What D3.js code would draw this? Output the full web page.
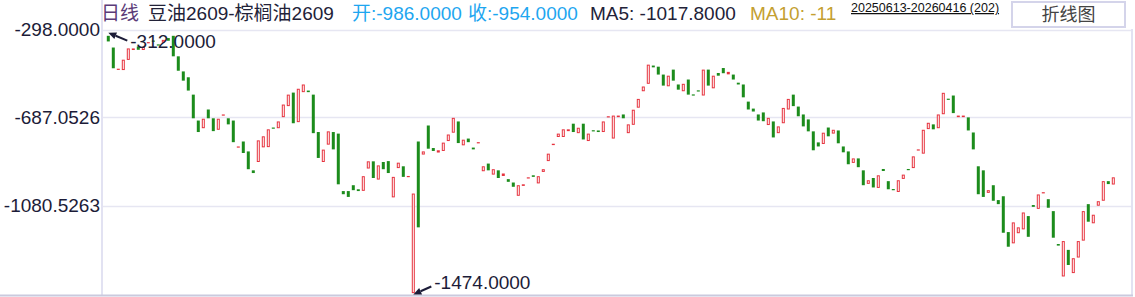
<!doctype html>
<html>
<head>
<meta charset="utf-8">
<style>
  body { margin: 0; background: #fff; }
  svg { display: block; font-family: "Liberation Sans", Arial, "Noto Sans CJK SC", sans-serif; }
</style>
<script src="https://d3js.org/d3.v7.min.js"></script>
</head>
<body>
<svg width="1135" height="297"></svg>
<script>
// daily candles, 20250613 - 20260416 (202 days), spread 豆油2609-棕榈油2609
var opens = [
  -326,-378,-474,-478,-433,-389,-373,-389,-357,-347,-364,-356,-336,-326,-417,-484,-510,-587,-702,-736,
  -653,-692,-743,-678,-692,-702,-819,-795,-839,-923,-886,-821,-820,-733,-736,-687,-638,-578,-709,-576,
  -569,-587,-753,-886,-809,-753,-760,-1015,-1015,-989,-1007,-1014,-915,-883,-964,-886,-882,-1043,-913,-905,
  -950,-1468,-795,-853,-724,-824,-844,-837,-793,-756,-706,-812,-782,-822,-800,-927,-893,-942,-923,-948,
  -962,-977,-1036,-992,-956,-945,-981,-930,-882,-811,-775,-775,-749,-716,-758,-716,-793,-745,-746,-753,
  -685,-782,-687,-675,-758,-721,-645,-572,-539,-458,-463,-498,-550,-476,-542,-572,-520,-586,-568,-591,
  -476,-559,-491,-469,-497,-498,-534,-542,-618,-649,-675,-666,-722,-706,-758,-714,-653,-587,-640,-675,
  -697,-750,-799,-806,-733,-760,-746,-817,-839,-890,-870,-923,-983,-957,-1001,-917,-971,-1006,-1019,-961,
  -917,-913,-832,-849,-740,-719,-736,-674,-605,-591,-687,-687,-688,-755,-905,-923,-1023,-989,-1055,-1038,
  -1197,-1247,-1202,-1185,-1126,-1077,-1094,-1022,-1051,-1104,-1250,-1394,-1276,-1379,-1310,-1235,-1073,-1158,-1080,-1058,
  -971,-986
];
var closes = [
  -351,-470,-472,-432,-382,-382,-388,-375,-354,-349,-367,-344,-348,-417,-481,-525,-569,-692,-753,-694,
  -692,-749,-694,-675,-719,-798,-817,-846,-918,-935,-790,-772,-741,-735,-706,-631,-587,-714,-561,-542,
  -576,-758,-868,-831,-750,-830,-985,-1029,-1041,-1011,-1015,-949,-883,-957,-901,-918,-935,-952,-889,-952,
  -948,-1026,-1176,-839,-827,-837,-834,-800,-764,-690,-802,-787,-798,-830,-798,-905,-923,-918,-957,-937,
  -974,-996,-989,-985,-954,-952,-949,-918,-849,-805,-760,-741,-741,-753,-734,-786,-760,-747,-753,-706,
  -683,-680,-680,-692,-719,-654,-606,-551,-454,-466,-498,-547,-503,-525,-565,-539,-587,-588,-570,-476,
  -547,-503,-503,-492,-486,-520,-542,-599,-653,-662,-702,-705,-690,-777,-728,-646,-606,-638,-683,-728,
  -750,-834,-817,-756,-772,-743,-803,-843,-896,-870,-909,-989,-967,-999,-945,-926,-1007,-1008,-967,-942,
  -919,-861,-830,-743,-712,-741,-675,-579,-607,-669,-680,-680,-746,-830,-1029,-1041,-1011,-1058,-1073,-1200,
  -1262,-1154,-1176,-1110,-1218,-1085,-1030,-1020,-1089,-1222,-1257,-1237,-1343,-1313,-1237,-1104,-1151,-1120,-1060,-971,
  -984,-954
];
var days = d3.range(opens.length);

var tickValues = [-298, -687.0526, -1080.5263];
var tickLabels = ["-298.0000", "-687.0526", "-1080.5263"];

var highIdx = 0, highVal = -312;
var lowIdx = 61, lowVal = -1474;

var svg = d3.select("svg");

var x = d3.scaleBand().domain(days).range([105.8, 1115.8]);
var y = d3.scaleLinear().domain([-1474, -298]).range([294.5, 29.5]);

var up = "#e6323e", down = "#1c8c1c", ink = "#1c1c38";

// grid
svg.selectAll(".grid")
   .data(tickValues)
   .enter().append("line")
   .attr("x1", 103).attr("x2", 1131)
   .attr("y1", function(d) { return Math.round(y(d)) + 0.5; })
   .attr("y2", function(d) { return Math.round(y(d)) + 0.5; })
   .attr("stroke", "#e6e6f2")
   .attr("stroke-width", 1.5);

svg.append("line").attr("x1", 102).attr("x2", 102).attr("y1", 0).attr("y2", 295)
   .attr("stroke", "#e2e2f2").attr("stroke-width", 2);
svg.append("line").attr("x1", 1132).attr("x2", 1132).attr("y1", 29).attr("y2", 295)
   .attr("stroke", "#e2e2f2").attr("stroke-width", 2);
svg.append("line").attr("x1", 0).attr("x2", 1133).attr("y1", 295.5).attr("y2", 295.5)
   .attr("stroke", "#cacade").attr("stroke-width", 2);

// y axis labels
var yAxis = svg.append("g")
   .attr("transform", "translate(100,0)")
   .call(d3.axisLeft(y).tickValues(tickValues)
          .tickFormat(function(d, i) { return tickLabels[i]; })
          .tickSize(0).tickPadding(0));
yAxis.select(".domain").remove();
yAxis.selectAll("text")
   .attr("font-size", "19px")
   .attr("font-family", "Liberation Sans, Arial, sans-serif")
   .attr("fill", ink);

// candles
var cw = 3;
var g = svg.append("g");
g.selectAll(".candle")
 .data(days)
 .enter().append("rect")
 .attr("class", "candle")
 .each(function(i) {
     var o = opens[i], c = closes[i];
     var top = y(Math.max(o, c)), bot = y(Math.min(o, c));
     var h = Math.max(bot - top, 1.2);
     var cx = x(i) + x.bandwidth() / 2;
     var r = d3.select(this);
     if (c > o && h > 2.5) {
         r.attr("x", cx - cw / 2 + 0.5).attr("y", top + 0.5)
          .attr("width", cw - 1).attr("height", h - 1)
          .attr("fill", "#fff").attr("stroke", up).attr("stroke-width", 1);
     } else {
         r.attr("x", cx - cw / 2).attr("y", top)
          .attr("width", cw).attr("height", h)
          .attr("fill", c > o ? up : down);
     }
 });

// high / low markers
function marker(idx, val, dx, dy, label) {
    var px = x(idx) + x.bandwidth() / 2, py = y(val);
    var ex = px + dx, ey = py + dy;
    var ang = Math.atan2(dy, dx);
    var L = 8, W = 3.5;
    var bx = px + L * Math.cos(ang), by = py + L * Math.sin(ang);
    var nx = -Math.sin(ang) * W, ny = Math.cos(ang) * W;
    svg.append("line")
       .attr("x1", bx).attr("y1", by).attr("x2", ex).attr("y2", ey)
       .attr("stroke", ink).attr("stroke-width", 2);
    svg.append("path")
       .attr("d", "M" + px + "," + py + "L" + (bx + nx) + "," + (by + ny) + "L" + (bx - nx) + "," + (by - ny) + "Z")
       .attr("fill", ink);
    svg.append("text")
       .attr("x", ex + 3).attr("y", ey + (dy > 0 ? 1 : -4))
       .attr("dy", "0.35em")
       .attr("font-size", "19px")
       .attr("fill", ink)
       .text(label);
}
marker(highIdx, highVal, 19, 8, highVal.toFixed(4));
marker(lowIdx, lowVal, 18, -8, lowVal.toFixed(4));

// header
var header = svg.append("g").attr("font-size", "19px");
header.append("text").attr("x", 101).attr("y", 20).attr("fill", "#5b3b78").text("日线");
header.append("text").attr("x", 148).attr("y", 20).attr("fill", "#222238").text("豆油2609-棕榈油2609");
header.append("text").attr("x", 352).attr("y", 20).attr("fill", "#1ea6f0").text("开:-986.0000");
header.append("text").attr("x", 468).attr("y", 20).attr("fill", "#1ea6f0").text("收:-954.0000");
header.append("text").attr("x", 590).attr("y", 20).attr("fill", "#222238").text("MA5: -1017.8000");
header.append("text").attr("x", 750).attr("y", 20).attr("fill", "#c4a030").text("MA10: -11");

svg.append("text").attr("x", 851).attr("y", 12)
   .attr("font-size", "12.5px").attr("fill", "#111")
   .attr("text-decoration", "underline")
   .text("20250613-20260416 (202)");

svg.append("rect").attr("x", 1012).attr("y", 2).attr("width", 113).attr("height", 25)
   .attr("fill", "#fff").attr("stroke", "#d4d4ea").attr("stroke-width", 2);
svg.append("text").attr("x", 1068.5).attr("y", 21).attr("text-anchor", "middle")
   .attr("font-size", "18px").attr("fill", "#444").text("折线图");
</script>
</body>
</html>
